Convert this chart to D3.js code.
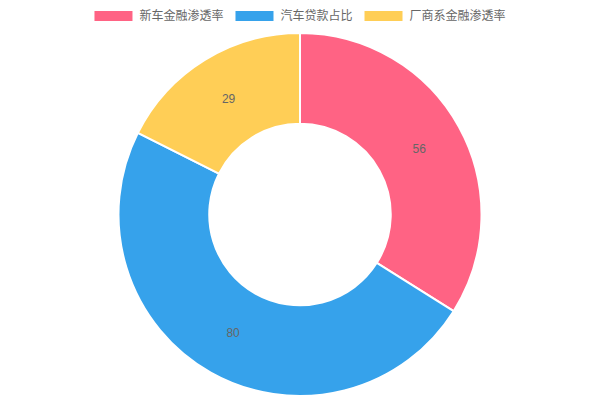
<!DOCTYPE html>
<html>
<head>
<meta charset="utf-8">
<script src="https://cdn.jsdelivr.net/npm/d3@7"></script>
<style>
  body { margin: 0; background: #fff; }
  svg { display: block; font-family: "Liberation Sans", "Noto Sans CJK SC", sans-serif; }
</style>
</head>
<body>
<svg width="600" height="400"></svg>
<script>
const categories = ["新车金融渗透率", "汽车贷款占比", "厂商系金融渗透率"];
const values = [56, 80, 29];
const colors = ["#FF6384", "#36A2EB", "#FFCE56"];

const width = 600, height = 400;
const cx = 300, cy = 214.5, outerR = 181.5, innerR = 90.75;
const svg = d3.select("svg");

const data = categories.map((c, i) => ({ name: c, value: values[i] }));

const pie = d3.pie().sort(null).value(d => d.value);
const arc = d3.arc().innerRadius(innerR).outerRadius(outerR);
const labelArc = d3.arc().innerRadius((innerR + outerR) / 2).outerRadius((innerR + outerR) / 2);

const color = d3.scaleOrdinal().domain(categories).range(colors);

const g = svg.append("g").attr("transform", `translate(${cx},${cy})`);

g.selectAll(".slice")
  .data(pie(data))
  .enter()
  .append("path")
  .attr("class", "slice")
  .attr("d", arc)
  .attr("fill", d => color(d.data.name))
  .attr("stroke", "#fff")
  .attr("stroke-width", 2);

g.selectAll(".label")
  .data(pie(data))
  .enter()
  .append("text")
  .attr("class", "label")
  .attr("transform", d => `translate(${labelArc.centroid(d)})`)
  .attr("dy", "0.35em")
  .style("text-anchor", "middle")
  .style("font-size", "12px")
  .style("fill", "#666")
  .text(d => d.data.value);

// 图例
const legend = svg.append("g").attr("class", "legend");
const items = legend.selectAll(".legend-item")
  .data(categories)
  .enter()
  .append("g")
  .attr("class", "legend-item");

items.append("rect")
  .attr("width", 38)
  .attr("height", 10)
  .attr("y", 11)
  .attr("fill", d => color(d));

items.append("text")
  .attr("x", 45)
  .attr("y", 16)
  .attr("dy", "0.35em")
  .style("font-size", "12px")
  .style("fill", "#666")
  .style("font-family", "'Noto Sans CJK SC', sans-serif")
  .text(d => d);

const widths = [];
items.each(function() {
  widths.push(45 + d3.select(this).select("text").node().getComputedTextLength());
});
const gap = 12;
const total = d3.sum(widths) + gap * (widths.length - 1);
let x0 = (width - total) / 2;
items.attr("transform", (d, i) => {
  const x = x0;
  x0 += widths[i] + gap;
  return `translate(${x},0)`;
});
</script>
</body>
</html>
